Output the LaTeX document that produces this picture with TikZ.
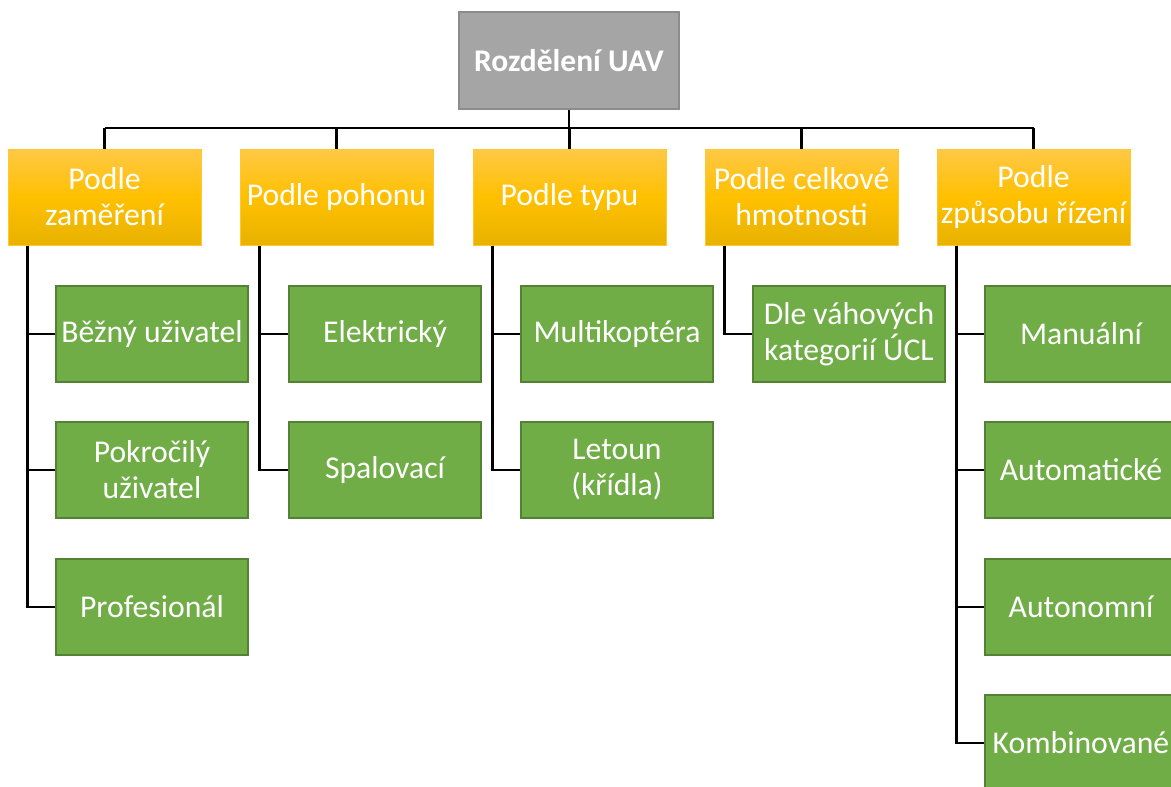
\documentclass[tikz,border=0pt]{standalone}
\usepackage{fontspec}
\setmainfont{Carlito}
\definecolor{rootfill}{HTML}{A5A5A5}
\definecolor{rootdraw}{HTML}{8C8C8C}
\definecolor{orTop}{HTML}{FFC846}
\definecolor{orMid}{HTML}{FFC000}
\definecolor{orBot}{HTML}{E8B200}
\definecolor{orDraw}{HTML}{FFC82E}
\definecolor{grFill}{HTML}{70AD47}
\definecolor{grDraw}{HTML}{548235}
\tikzset{
  rootbox/.style={fill=rootfill, draw=rootdraw, line width=2pt, minimum width=220pt, minimum height=97pt, inner sep=0pt, text=white, font=\fontsize{31.5}{36}\selectfont\bfseries, align=center},
  catbox/.style={top color=orTop, bottom color=orBot, middle color=orMid, draw=orDraw, line width=1pt, minimum width=193pt, minimum height=96pt, inner sep=0pt, text=white, font=\fontsize{31.7}{36}\selectfont, align=center},
  leafbox/.style={fill=grFill, draw=grDraw, line width=2pt, minimum width=192pt, minimum height=96pt, inner sep=0pt, text=white, font=\fontsize{31.7}{36}\selectfont, align=center},
  conn/.style={line width=2.4pt, black, line join=miter}
}
\begin{document}
\begin{tikzpicture}[x=1pt,y=-1pt]
\useasboundingbox (0,0) rectangle (1171,787);
\clip (0,0) rectangle (1171,787);
% root
\node[rootbox] (root) at (569,60.5) {Rozdělení UAV};
% categories
\node[catbox] (o1) at (104.5,197) {Podle\\zaměření};
\node[catbox] (o2) at (336.5,197) {Podle pohonu};
\node[catbox] (o3) at (569.5,197) {Podle typu};
\node[catbox] (o4) at (801.5,197) {Podle celkové\\hmotnosti};
\node[catbox] (o5) at (1033.5,197) {Podle\\způsobu řízení};
% leaves
\node[leafbox] (g11) at (152,334) {Běžný uživatel};
\node[leafbox] (g12) at (152,470) {Pokročilý\\uživatel};
\node[leafbox] (g13) at (152,607) {Profesionál};
\node[leafbox] (g21) at (385,334) {Elektrický};
\node[leafbox] (g22) at (385,470) {Spalovací};
\node[leafbox] (g31) at (617,334) {Multikoptéra};
\node[leafbox] (g32) at (617,470) {Letoun\\(křídla)};
\node[leafbox] (g41) at (849,334) {Dle váhových\\kategorií ÚCL};
\node[leafbox] (g51) at (1081,334) {Manuální};
\node[leafbox] (g52) at (1081,470) {Automatické};
\node[leafbox] (g53) at (1081,607) {Autonomní};
\node[leafbox] (g54) at (1081,743) {Kombinované};
% connectors
\coordinate (bus) at (569,128);
\draw[conn] (root.south) -- (bus);
\draw[conn] (o1.north |- bus) -- (o5.north |- bus);
\foreach \o in {o1,o2,o3,o4,o5}{
  \draw[conn] (\o.north |- bus) -- (\o.north);
}
\foreach \o/\g in {o1/g11,o1/g12,o1/g13,o2/g21,o2/g22,o3/g31,o3/g32,o4/g41,o5/g51,o5/g52,o5/g53,o5/g54}{
  \draw[conn] ([xshift=20pt]\o.south west) |- (\g.west);
}
\end{tikzpicture}
\end{document}
